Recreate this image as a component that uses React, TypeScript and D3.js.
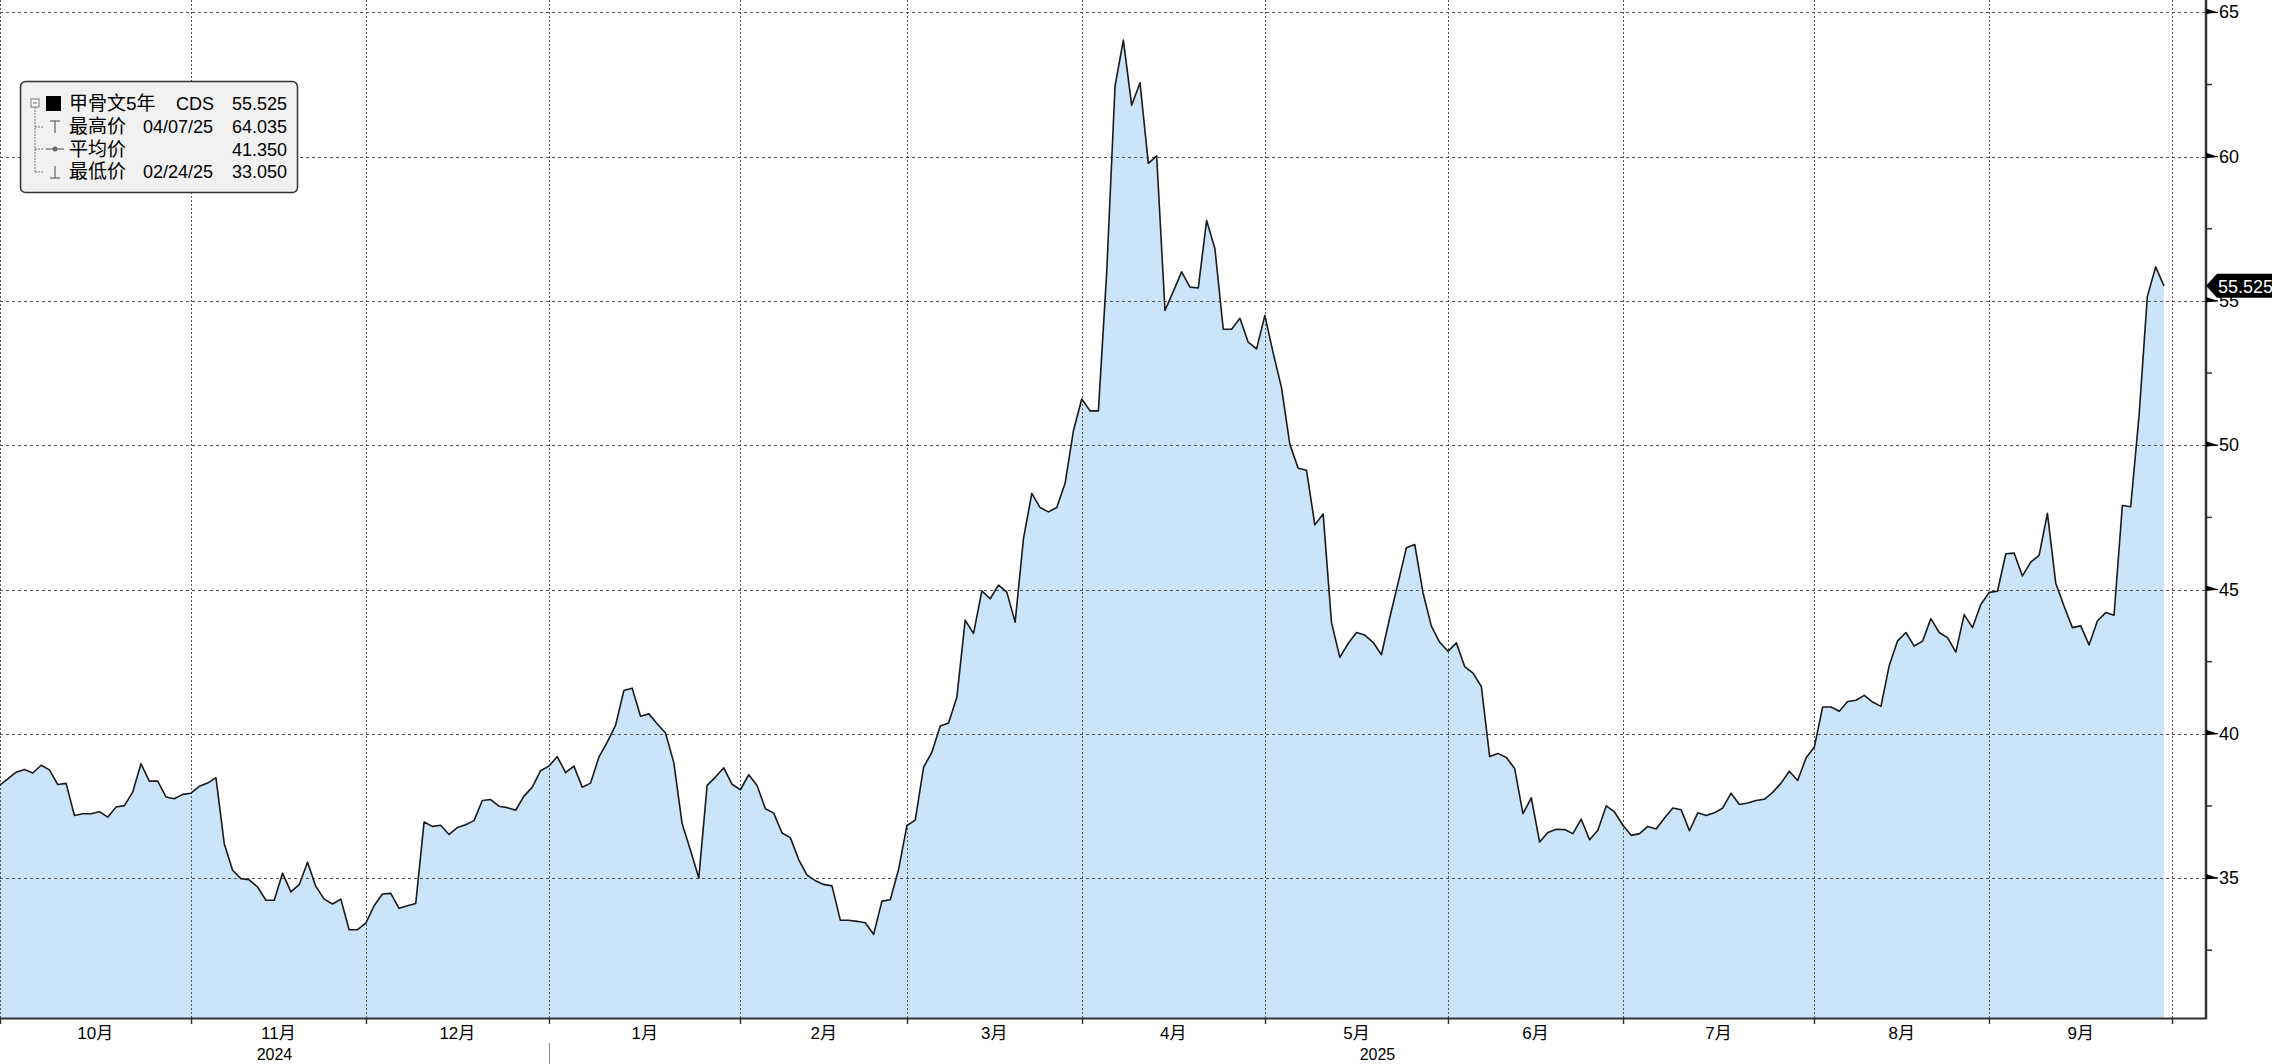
import React from 'react';
import * as d3 from 'd3';

const W = 2272;
const H = 1064;
const AXIS_X = 2206;
const AXIS_Y = 1018;

// Month categories (trading days per month)
const monthLabels = ['10月', '11月', '12月', '1月', '2月', '3月', '4月', '5月', '6月', '7月', '8月', '9月'];
const yearLabels = ['2024', '2025'];
const yearStartMonth = [0, 3];

const oct2024 = [38.21, 38.44, 38.67, 38.76, 38.64, 38.91, 38.75, 38.24, 38.28, 37.17, 37.23, 37.23, 37.30, 37.11, 37.46, 37.51, 37.98, 38.96, 38.36, 38.36, 37.81, 37.75, 37.90];
const nov2024 = [37.94, 38.18, 38.29, 38.48, 36.19, 35.27, 34.98, 34.94, 34.69, 34.23, 34.23, 35.17, 34.52, 34.77, 35.55, 34.71, 34.27, 34.10, 34.27, 33.21, 33.21];
const dec2024 = [33.44, 34.04, 34.45, 34.47, 33.95, 34.04, 34.12, 36.94, 36.79, 36.83, 36.51, 36.75, 36.85, 36.99, 37.69, 37.72, 37.49, 37.44, 37.35, 37.84, 38.15, 38.72];
const jan2025 = [38.88, 39.21, 38.65, 38.88, 38.15, 38.29, 39.19, 39.71, 40.29, 41.50, 41.58, 40.61, 40.69, 40.35, 40.03, 39.00, 36.88, 35.96, 35.00, 38.21, 38.50, 38.82, 38.25];
const feb2025 = [38.06, 38.58, 38.21, 37.40, 37.25, 36.56, 36.40, 35.64, 35.10, 34.91, 34.78, 34.73, 33.54, 33.54, 33.50, 33.45, 33.05, 34.20, 34.25, 35.30];
const mar2025 = [36.82, 37.01, 38.84, 39.36, 40.27, 40.37, 41.27, 43.94, 43.47, 44.95, 44.68, 45.15, 44.91, 43.87, 46.76, 48.33, 47.84, 47.69, 47.84, 48.68, 50.50];
const apr2025 = [51.60, 51.19, 51.19, 56.00, 62.45, 64.04, 61.78, 62.56, 59.77, 60.03, 54.67, 55.33, 56.01, 55.48, 55.45, 57.79, 56.81, 54.02, 54.02, 54.40, 53.57, 53.34];
const may2025 = [54.50, 53.19, 51.99, 50.03, 49.20, 49.13, 47.24, 47.62, 43.86, 42.65, 43.13, 43.51, 43.42, 43.17, 42.74, 44.02, 45.23, 46.45, 46.56, 44.88, 43.73, 43.17];
const jun2025 = [42.86, 43.15, 42.33, 42.10, 41.64, 39.21, 39.32, 39.18, 38.80, 37.23, 37.78, 36.25, 36.58, 36.69, 36.68, 36.54, 37.04, 36.33, 36.66, 37.50, 37.29];
const jul2025 = [36.83, 36.48, 36.54, 36.79, 36.70, 37.08, 37.43, 37.37, 36.64, 37.26, 37.17, 37.26, 37.43, 37.94, 37.55, 37.60, 37.69, 37.73, 37.97, 38.29, 38.70, 38.38, 39.16];
const aug2025 = [39.54, 40.93, 40.93, 40.78, 41.12, 41.16, 41.33, 41.10, 40.95, 42.37, 43.22, 43.51, 43.04, 43.21, 43.99, 43.51, 43.33, 42.83, 44.13, 43.68, 44.48];
const sep2025 = [44.90, 44.94, 46.24, 46.26, 45.47, 45.95, 46.18, 47.64, 45.22, 44.42, 43.68, 43.74, 43.08, 43.91, 44.20, 44.11, 47.91, 47.87, 51.00, 55.15, 56.18, 55.525];

const yMajorTicks = [35, 40, 45, 50, 55, 60, 65];
const yMinorTicks = [32.5, 37.5, 42.5, 47.5, 52.5, 57.5, 62.5];

const legendName = '甲骨文5年';
const legendTicker = 'CDS';
const legendLast = '55.525';
const legendRows = [
  { label: '最高价', date: '04/07/25', value: '64.035' },
  { label: '平均价', date: '', value: '41.350' },
  { label: '最低价', date: '02/24/25', value: '33.050' },
];
const lastValue = 55.525;
const lastLabel = '55.525';

const FONT = "'Liberation Sans', 'Noto Sans CJK SC', sans-serif";

export default function App() {
  const months = [oct2024, nov2024, dec2024, jan2025, feb2025, mar2025, apr2025, may2025, jun2025, jul2025, aug2025, sep2025];
  const values: number[] = months.flat();
  const starts: number[] = [];
  let acc = 0;
  months.forEach((m) => { starts.push(acc); acc += m.length; });
  starts.push(acc);
  const total = acc;

  const x = d3.scaleLinear().domain([0, total]).range([-0.5, 2172.3]);
  const y = d3.scaleLinear().domain([30.15, 65.43]).range([AXIS_Y, 0]);

  const area = d3.area<number>().x((_, i) => x(i)).y0(AXIS_Y).y1((d) => y(d));
  const line = d3.line<number>().x((_, i) => x(i)).y((d) => y(d));

  const yearStartsX = yearStartMonth.map((m) => x(starts[m]));
  const yearEndsX = [yearStartsX[1], AXIS_X];

  const lastY = y(lastValue);

  return (
    <div style={{ position: 'absolute', left: 0, top: 0, width: W, height: H, background: '#fff' }}>
      <svg width={W} height={H} style={{ display: 'block' }} fontFamily={FONT}>
        <rect x={0} y={0} width={W} height={H} fill="#fff" />
        <path d={area(values) || ''} fill="#cce4fa" />
        {/* horizontal grid */}
        {yMajorTicks.map((t) => (
          <line key={'hg' + t} x1={0} x2={AXIS_X} y1={Math.round(y(t)) + 0.5} y2={Math.round(y(t)) + 0.5}
            stroke="#555" strokeWidth={1} strokeDasharray="3,3" />
        ))}
        {/* vertical grid */}
        {starts.map((s, k) => (
          <line key={'vg' + k} x1={Math.round(x(s)) + 0.5} x2={Math.round(x(s)) + 0.5} y1={0} y2={AXIS_Y}
            stroke="#555" strokeWidth={1} strokeDasharray="2,2" />
        ))}
        <path d={line(values) || ''} fill="none" stroke="#1a1a1a" strokeWidth={1.6} strokeLinejoin="round" />

        {/* x axis */}
        <line x1={0} x2={AXIS_X + 1} y1={AXIS_Y + 0.5} y2={AXIS_Y + 0.5} stroke="#333" strokeWidth={2} />
        {starts.map((s, k) => (
          <line key={'xt' + k} x1={Math.round(x(s)) + 0.5} x2={Math.round(x(s)) + 0.5} y1={AXIS_Y} y2={AXIS_Y + 6}
            stroke="#333" strokeWidth={1.5} />
        ))}
        {monthLabels.map((lab, k) => (
          <text key={'ml' + k} x={(x(starts[k]) + x(starts[k + 1])) / 2} y={1033} textAnchor="middle"
            dominantBaseline="central" fontSize={17} fill="#000">{lab}</text>
        ))}
        {yearLabels.map((lab, k) => (
          <text key={'yl' + k} x={(Math.max(0, yearStartsX[k]) + yearEndsX[k]) / 2} y={1054} textAnchor="middle"
            dominantBaseline="central" fontSize={16} fill="#000">{lab}</text>
        ))}
        <line x1={Math.round(yearStartsX[1]) + 0.5} x2={Math.round(yearStartsX[1]) + 0.5} y1={1043} y2={H}
          stroke="#888" strokeWidth={1} />

        {/* right axis */}
        <line x1={AXIS_X} x2={AXIS_X} y1={0} y2={AXIS_Y + 1} stroke="#333" strokeWidth={2.5} />
        {yMinorTicks.map((t) => (
          <line key={'mt' + t} x1={AXIS_X} x2={AXIS_X + 6} y1={y(t)} y2={y(t)} stroke="#333" strokeWidth={1.5} />
        ))}
        {yMajorTicks.map((t) => (
          <g key={'yt' + t}>
            <polygon points={`${AXIS_X},${y(t) - 4} ${AXIS_X + 12},${y(t)} ${AXIS_X},${y(t) + 1.5}`} fill="#000" />
            <line x1={AXIS_X} x2={AXIS_X + 12} y1={y(t)} y2={y(t)} stroke="#000" strokeWidth={1.2} />
            <text x={AXIS_X + 13} y={y(t)} dominantBaseline="central" fontSize={18} fill="#000">{t}</text>
          </g>
        ))}
        {/* last value tag */}
        <path d={`M${AXIS_X},${lastY} L${AXIS_X + 11},${lastY - 12} L${W},${lastY - 12} L${W},${lastY + 12} L${AXIS_X + 11},${lastY + 12} Z`}
          fill="#000" />
        <text x={AXIS_X + 12} y={lastY + 1} dominantBaseline="central" fontSize={18} fill="#fff">{lastLabel}</text>

        {/* legend */}
        <g>
          <rect x={20.5} y={81.5} width={277} height={111} rx={5} fill="#f1f1f1" stroke="#333" strokeWidth={1.5} />
          <line x1={35} x2={35} y1={107} y2={172} stroke="#777" strokeWidth={1} strokeDasharray="2,1" />
          {[127, 149, 172].map((yy) => (
            <line key={'st' + yy} x1={35} x2={43} y1={yy} y2={yy} stroke="#777" strokeWidth={1} strokeDasharray="2,1" />
          ))}
          <rect x={31} y={99} width={8} height={8} fill="#fff" stroke="#777" strokeWidth={1} />
          <line x1={33} x2={37} y1={103} y2={103} stroke="#555" strokeWidth={1} />
          <rect x={46} y={96} width={15} height={15} fill="#000" />
          {/* high icon */}
          <line x1={55} x2={55} y1={121} y2={133} stroke="#666" strokeWidth={1.2} />
          <line x1={50} x2={60} y1={121} y2={121} stroke="#666" strokeWidth={1.2} />
          {/* avg icon */}
          <line x1={46} x2={64} y1={149} y2={149} stroke="#666" strokeWidth={1.2} />
          <circle cx={55} cy={149} r={2.5} fill="#666" />
          {/* low icon */}
          <line x1={55} x2={55} y1={166} y2={178} stroke="#666" strokeWidth={1.2} />
          <line x1={50} x2={60} y1={178} y2={178} stroke="#666" strokeWidth={1.2} />

          <text x={69} y={110} fontSize={19} fill="#000">{legendName}</text>
          <text x={176} y={110} fontSize={18} fill="#000">{legendTicker}</text>
          <text x={287} y={110} fontSize={18} fill="#000" textAnchor="end">{legendLast}</text>
          {legendRows.map((r, k) => (
            <g key={'lr' + k}>
              <text x={69} y={133 + k * 22.7} fontSize={19} fill="#000">{r.label}</text>
              {r.date && <text x={143} y={133 + k * 22.7} fontSize={18} fill="#000">{r.date}</text>}
              <text x={287} y={133 + k * 22.7} fontSize={18} fill="#000" textAnchor="end">{r.value}</text>
            </g>
          ))}
        </g>
      </svg>
    </div>
  );
}
